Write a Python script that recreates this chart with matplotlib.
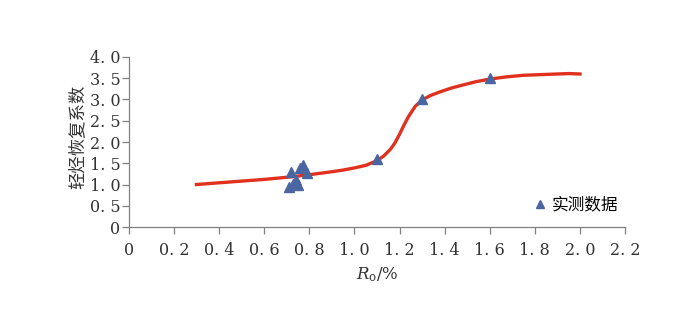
import matplotlib
matplotlib.use("Agg")
import matplotlib.pyplot as plt

plt.rcParams['font.family'] = ['DejaVu Serif', 'Noto Sans CJK SC']
plt.rcParams['mathtext.fontset'] = 'dejavuserif'

# fitted curve
curve_x = [0.30, 0.40, 0.50, 0.60, 0.70, 0.80, 0.90, 0.95, 1.00, 1.05, 1.10, 1.13,
           1.16, 1.18, 1.20, 1.22, 1.24, 1.27, 1.30, 1.34, 1.38, 1.43, 1.48, 1.54,
           1.60, 1.67, 1.75, 1.85, 1.95, 2.00]
curve_y = [1.00, 1.04, 1.08, 1.12, 1.17, 1.23, 1.30, 1.34, 1.39, 1.45, 1.56, 1.67,
           1.83, 1.98, 2.18, 2.40, 2.60, 2.84, 2.99, 3.10, 3.18, 3.27, 3.34, 3.42,
           3.48, 3.53, 3.57, 3.59, 3.61, 3.60]

# measured data
meas_x = [0.71, 0.72, 0.74, 0.75, 0.73, 0.77, 0.76, 0.79, 1.10, 1.30, 1.60]
meas_y = [0.94, 1.29, 1.10, 1.00, 1.02, 1.46, 1.38, 1.27, 1.60, 3.00, 3.50]

x_ticks = [0, 0.2, 0.4, 0.6, 0.8, 1.0, 1.2, 1.4, 1.6, 1.8, 2.0, 2.2]
x_labels = ['0', '0. 2', '0. 4', '0. 6', '0. 8', '1. 0', '1. 2', '1. 4', '1. 6',
            '1. 8', '2. 0', '2. 2']
y_ticks = [0, 0.5, 1.0, 1.5, 2.0, 2.5, 3.0, 3.5, 4.0]
y_labels = ['0', '0. 5', '1. 0', '1. 5', '2. 0', '2. 5', '3. 0', '3. 5', '4. 0']

fig = plt.figure(figsize=(7.0, 3.22), dpi=100)
ax = fig.add_axes([0.184, 0.295, 0.709, 0.528])

ax.plot(curve_x, curve_y, color='#E0301E', lw=2.4, zorder=2)
ax.plot(meas_x, meas_y, linestyle='none', marker='^', markersize=7,
        color='#4A66A0', label='实测数据', zorder=3)

ax.set_xlim(0, 2.2)
ax.set_ylim(0, 4.0)
ax.set_xticks(x_ticks)
ax.set_xticklabels(x_labels)
ax.set_yticks(y_ticks)
ax.set_yticklabels(y_labels)

for s in ['top', 'right']:
    ax.spines[s].set_visible(False)
for s in ['left', 'bottom']:
    ax.spines[s].set_color('#808080')
    ax.spines[s].set_linewidth(0.9)
ax.tick_params(axis='both', colors='#808080', labelcolor='#333333',
               labelsize=11.5, length=5, width=0.9, direction='out')
ax.tick_params(axis='x', pad=6)
ax.tick_params(axis='y', pad=1)

ax.set_xlabel(r'$R_{\mathrm{o}}$/%', fontsize=12, color='#333333', labelpad=4)
ax.set_ylabel('轻烃恢复系数', fontsize=12.5, color='#333333',
              family=['Noto Sans CJK SC'], labelpad=3)
ax.yaxis.set_label_coords(-0.085, 0.53)

leg = ax.legend(loc='lower left', bbox_to_anchor=(0.795, 0.04), frameon=False,
                prop={'family': ['Noto Sans CJK SC'], 'size': 12},
                handletextpad=0.1, handlelength=1.2, markerscale=0.8,
                borderaxespad=0)

fig.savefig('out.png', dpi=100)
